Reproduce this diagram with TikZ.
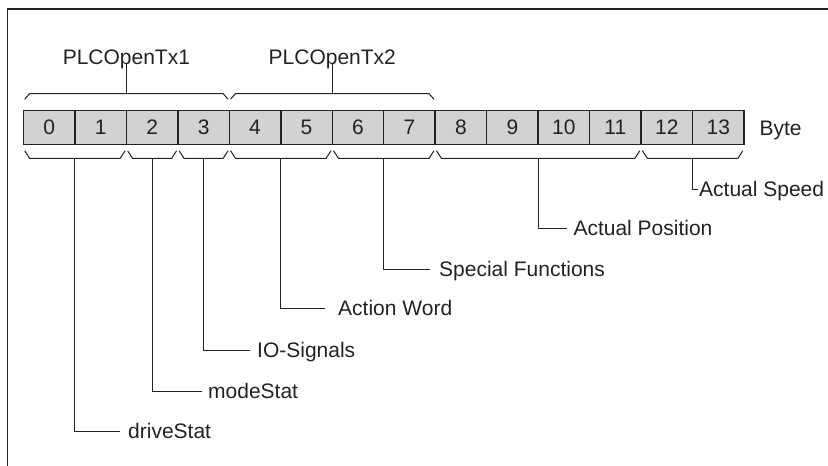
\documentclass[tikz,border=0pt]{standalone}
\usepackage{fontspec}
\setmainfont{Liberation Sans}
\usetikzlibrary{calc}
\definecolor{cellgray}{HTML}{D2D2D2}
\definecolor{ink}{HTML}{222222}
\tikzset{
  bytecell/.style={draw=ink, line width=1.5pt, fill=cellgray, minimum width=51.47pt,
    minimum height=33.8pt, inner sep=0pt, anchor=west, text=ink},
  brc/.style={draw=ink, line width=1pt, line join=miter},
  lead/.style={draw=ink, line width=1pt},
  lbl/.style={inner xsep=0pt, inner ysep=0pt, text height=15pt, text depth=0pt,
    anchor=west, text=ink},
  toplbl/.style={inner xsep=0pt, inner ysep=0pt, text height=15pt, text depth=0pt,
    anchor=south, text=ink},
}
\begin{document}
\begin{tikzpicture}[x=1pt, y=-1pt, font=\fontsize{21}{25}\selectfont]
\useasboundingbox (0,0) rectangle (828,466);
% frame (top and left edges only)
\draw[ink, line width=1.2pt] (828,9) -- (7.3,9) -- (7.3,466);

% byte cells
\foreach \i in {0,...,13} {
  \node[bytecell] (c\i) at ({22.7+51.47*\i},127.4) {\i};
}
\node[lbl] (byte) at (759.3,128.2) {Byte};

% upper braces: (name, first cell, last cell)
\foreach \n/\a/\b in {u1/0/3, u2/4/7} {
  \path ($(c\a.north west)+(2,-10.5)$) coordinate (\n l)
        ($(c\b.north east)+(-2,-10.5)$) coordinate (\n r);
  \draw[brc] (\n l) -- ++(5,-5.7) -- ($(\n r)+(-5,-5.7)$) -- (\n r);
  \coordinate (\n m) at ($(\n l)!0.5!(\n r)+(0,-5.7)$);
}
\node[toplbl] (tx1) at ($(u1m)+(0,-29)$) {PLCOpenTx1};
\node[toplbl] (tx2) at ($(u2m)+(0,-29)$) {PLCOpenTx2};
\draw[lead] (u1m) -- ([yshift=1.5]tx1.south);
\draw[lead] (u2m) -- ([yshift=1.5]tx2.south);

% lower braces
\foreach \n/\a/\b in {d1/0/1, d2/2/2, d3/3/3, d4/4/5, d5/6/7, d6/8/11, d7/12/13} {
  \path ($(c\a.south west)+(2,5.7)$) coordinate (\n l)
        ($(c\b.south east)+(-2,5.7)$) coordinate (\n r);
  \draw[brc] (\n l) -- ++(5,7.7) -- ($(\n r)+(-5,7.7)$) -- (\n r);
  \coordinate (\n m) at ($(\n l)!0.5!(\n r)+(0,7.7)$);
}

% field labels
\node[lbl] (drive)   at (128,430.5)   {driveStat};
\node[lbl] (mode)    at (208,390.5)   {modeStat};
\node[lbl] (io)      at (257,349.5)   {IO-Signals};
\node[lbl] (action)  at (338,307.8) {Action Word};
\node[lbl] (special) at (439,268.8) {Special Functions};
\node[lbl] (pos)     at (573.3,227.8) {Actual Position};
\node[lbl] (speed)   at (699,188.8) {Actual Speed};

% leader lines from braces to labels
\draw[lead] (d1m) |- ([xshift=-8,yshift=-0.5]drive.west);
\draw[lead] (d2m) |- ([xshift=-6.3,yshift=-0.5]mode.west);
\draw[lead] (d3m) |- ([xshift=-7,yshift=-0.5]io.west);
\draw[lead] (d4m) |- ([xshift=-13,yshift=-0.5]action.west);
\draw[lead] (d5m) |- ([xshift=-9,yshift=-0.5]special.west);
\draw[lead] (d6m) |- ([xshift=-6.6,yshift=-0.5]pos.west);
\draw[lead] (d7m) |- ([xshift=-1,yshift=-0.5]speed.west);
\end{tikzpicture}
\end{document}
